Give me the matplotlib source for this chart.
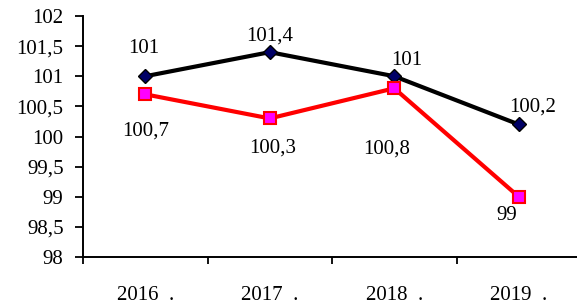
import matplotlib
matplotlib.use('Agg')
import matplotlib.pyplot as plt
from matplotlib.ticker import FixedLocator, FuncFormatter

# Data
years = ['2016  .', '2017  .', '2018  .', '2019  .']
black_vals = [101, 101.4, 101, 100.2]
red_vals = [100.7, 100.3, 100.8, 99]
black_labels = ['101', '101,4', '101', '100,2']
red_labels = ['100,7', '100,3', '100,8', '99']

# label offsets in pixels (dx, dy)
black_offsets = [(-2, 28), (0, 16), (12, 16), (14, 17)]
red_offsets = [(0, -37), (3, -30), (-8, -61), (-12, -19)]

plt.rcParams['font.family'] = ['Liberation Serif', 'DejaVu Serif']
fs = 15

fig = plt.figure(figsize=(5.77, 3.06), dpi=100)
ax = fig.add_axes([83 / 577, 49 / 306, (581 - 83) / 577, (257 - 16) / 306])

x = list(range(len(years)))
ax.plot(x, black_vals, color='black', lw=3, marker='D', ms=7,
        markerfacecolor='#000066', markeredgecolor='black', mew=1, zorder=3)
ax.plot(x, red_vals, color='#ff0000', lw=3, marker='s', ms=8,
        markerfacecolor='#ff00ff', markeredgecolor='#ff0000', mew=1.5, zorder=3)

for xi, v, lab, (dx, dy) in zip(x, black_vals, black_labels, black_offsets):
    ax.annotate(lab, (xi, v), xytext=(dx, dy), textcoords='offset pixels',
                ha='center', va='center', fontsize=fs)
for xi, v, lab, (dx, dy) in zip(x, red_vals, red_labels, red_offsets):
    ax.annotate(lab, (xi, v), xytext=(dx, dy), textcoords='offset pixels',
                ha='center', va='center', fontsize=fs)

ax.set_xlim(-0.5, 3.5)
ax.set_ylim(98, 102)
ax.set_yticks([98 + 0.5 * i for i in range(9)])
ax.yaxis.set_major_formatter(FuncFormatter(lambda v, p: f'{v:g}'.replace('.', ',')))
ax.tick_params(axis='y', direction='out', length=6, width=1.3, labelsize=fs, pad=8)

ax.xaxis.set_major_locator(FixedLocator([-0.5, 0.5, 1.5, 2.5, 3.5]))
ax.xaxis.set_minor_locator(FixedLocator(x))
ax.set_xticklabels([], minor=False)
ax.set_xticklabels(years, minor=True)
ax.tick_params(axis='x', which='major', direction='out', length=5, width=1.3)
ax.tick_params(axis='x', which='minor', length=0, labelsize=fs, pad=21)

for s in ['top', 'right']:
    ax.spines[s].set_visible(False)
for s in ['left', 'bottom']:
    ax.spines[s].set_linewidth(1.4)

fig.savefig('out.png', dpi=100)
